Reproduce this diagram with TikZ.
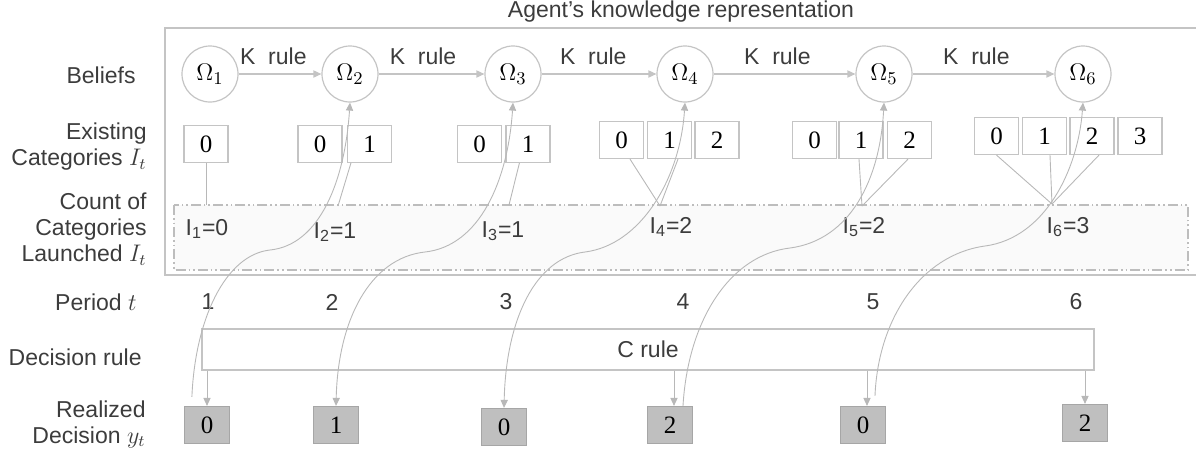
\documentclass[tikz,border=0pt]{standalone}
\usepackage{fontspec}
\setmainfont{Liberation Sans}
\newfontfamily\digfont{Liberation Serif}
\usetikzlibrary{arrows.meta,calc}
\definecolor{txt}{HTML}{3C3C3C}
\definecolor{ln}{HTML}{C4C4C4}
\definecolor{cn}{HTML}{B8B8B8}
\definecolor{dfill}{HTML}{BFBFBF}
\definecolor{dline}{HTML}{A6A6A6}
\definecolor{panel}{HTML}{FAFAFA}
\definecolor{dash}{HTML}{BDBDBD}
\begin{document}
\begin{tikzpicture}[x=0.5pt,y=-0.5pt,
  font=\fontsize{11.5}{13}\selectfont, text=txt,
  belief/.style={circle,draw=ln,line width=0.6pt,minimum size=28pt,inner sep=0pt,text=black,font=\fontsize{12.5}{13}\selectfont},
  catbox/.style={draw=ln,line width=0.6pt,minimum width=22pt,minimum height=18.5pt,inner sep=0pt,text=black,font=\digfont\fontsize{12.5}{13}\selectfont},
  decbox/.style={draw=dline,fill=dfill,line width=0.6pt,minimum width=22.5pt,minimum height=18.5pt,inner sep=0pt,text=black,font=\digfont\fontsize{12.5}{13}\selectfont},
  rowlabel/.style={anchor=east,align=right,inner sep=0pt},
  plain/.style={inner sep=0pt},
  conn/.style={draw=cn,line width=0.45pt},
  tipa/.tip={Triangle[length=4pt,width=3.6pt]},
  arr/.style={conn,-tipa},
  karrow/.style={draw=ln,line width=0.6pt,-tipa},
  frame/.style={draw=ln,line width=0.6pt},
  panelbox/.style={draw=dash,fill=panel,line width=0.6pt,dash pattern=on 5pt off 1.5pt on 0.8pt off 1.5pt on 0.8pt off 1.5pt},
  rulebox/.style={draw=ln,line width=0.6pt,minimum width=446pt,minimum height=20.5pt,inner sep=0pt}
]
\useasboundingbox (0,0) rectangle (1196,456);

% frames
\draw[frame] (165,28) rectangle (1205,275);
\draw[panelbox] (174,205) rectangle (1188,270);

% title
\node[plain] (title) at (681,12) {Agent's knowledge representation};

% row labels
\node[rowlabel] (lb1) at (136,75) {Beliefs};
\node[rowlabel] (lb2) at (147,147) {Existing\\Categories $I_t$};
\node[rowlabel] (lb3) at (147,229) {Count of\\Categories\\Launched $I_t$};
\node[rowlabel] (lb4) at (137,302) {Period $t$};
\node[rowlabel] (lb5) at (142,357) {Decision rule};
\node[rowlabel] (lb6) at (146,424) {Realized\\Decision $y_t$};

% beliefs
\node[belief] (o1) at (210,74) {$\Omega_1$};
\node[belief] (o2) at (350,74) {$\Omega_2$};
\node[belief] (o3) at (513,74) {$\Omega_3$};
\node[belief] (o4) at (685,74) {$\Omega_4$};
\node[belief] (o5) at (884,74) {$\Omega_5$};
\node[belief] (o6) at (1083,74) {$\Omega_6$};

\draw[karrow] (o1) -- node[above=4.5pt,plain,pos=0.42] (kr1) {K~~rule} (o2);
\draw[karrow] (o2) -- node[above=4.5pt,plain,pos=0.42] (kr2) {K~~rule} (o3);
\draw[karrow] (o3) -- node[above=4.5pt,plain,pos=0.45] (kr3) {K~~rule} (o4);
\draw[karrow] (o4) -- node[above=4.5pt,plain,pos=0.45] (kr4) {K~~rule} (o5);
\draw[karrow] (o5) -- node[above=4.5pt,plain,pos=0.45] (kr5) {K~~rule} (o6);

% existing categories
\node[catbox] (c1a) at (206,144) {0};
\node[catbox] (c2a) at (320,144) {0};
\node[catbox] (c2b) at (369.5,144) {1};
\node[catbox] (c3a) at (479.5,144) {0};
\node[catbox] (c3b) at (528,144) {1};
\node[catbox] (c4a) at (621.5,140) {0};
\node[catbox] (c4b) at (669.5,140) {1};
\node[catbox] (c4c) at (717,140) {2};
\node[catbox] (c5a) at (814.5,140) {0};
\node[catbox] (c5b) at (861,140) {1};
\node[catbox] (c5c) at (909.5,140) {2};
\node[catbox] (c6a) at (996.5,136) {0};
\node[catbox] (c6b) at (1044.5,136) {1};
\node[catbox] (c6c) at (1092,136) {2};
\node[catbox] (c6d) at (1140,136) {3};

% count points
\coordinate (k1) at (206,205);
\coordinate (k2) at (338,206);
\coordinate (k3) at (509,205);
\coordinate (k4) at (660,206);
\coordinate (k5) at (862,206);
\coordinate (k6) at (1052,204);

\draw[conn] (c1a.south) -- (k1);
\draw[conn] ($(c2b.south west)+(4,0)$) -- (k2);
\draw[conn] ($(c3b.south west)+(14,0)$) -- (k3);
\draw[conn] ($(c4a.south)+(8.5,0)$) -- (k4);
\draw[conn] ($(c4b.south)+(8.5,0)$) -- (k4);
\draw[conn] ($(c5b.south)+(-2,0)$) -- (k5);
\draw[conn] ($(c5c.south)+(-1.5,0)$) -- (k5);
\draw[conn] (c6a.south) -- (k6);
\draw[conn] ($(c6b.south)+(5.5,0)$) -- (k6);
\draw[conn] ($(c6c.south)+(7,0)$) -- (k6);

% counts
\node[plain] (n1) at (207,229) {I\textsubscript{1}=0};
\node[plain] (n2) at (335,232) {I\textsubscript{2}=1};
\node[plain] (n3) at (503,231) {I\textsubscript{3}=1};
\node[plain] (n4) at (671,227) {I\textsubscript{4}=2};
\node[plain] (n5) at (864,227) {I\textsubscript{5}=2};
\node[plain] (n6) at (1068,227) {I\textsubscript{6}=3};

% periods
\node[plain] (p1) at (208,302) {1};
\node[plain] (p2) at (332,302) {2};
\node[plain] (p3) at (506,302) {3};
\node[plain] (p4) at (683,302) {4};
\node[plain] (p5) at (873,302) {5};
\node[plain] (p6) at (1076,302) {6};

% decision rule
\node[rulebox] (crule) at (648,349.5) {C rule};

% realized decisions
\node[decbox] (y1) at (207,425) {0};
\node[decbox] (y2) at (336,425) {1};
\node[decbox] (y3) at (504,427) {0};
\node[decbox] (y4) at (670,425) {2};
\node[decbox] (y5) at (863,425) {0};
\node[decbox] (y6) at (1085,423) {2};

\draw[arr] (crule.south -| y1.north) -- (y1.north);
\draw[arr] ($(crule.south -| y4.north)+(4,0)$) -- ($(y4.north)+(4,0)$);
\draw[arr] ($(crule.south -| y5.north)+(4,0)$) -- ($(y5.north)+(4,0)$);
\draw[arr] (crule.south -| y6.north) -- (y6.north);

% feedback curves
\draw[arr] ($(y1.north west)+(8,-9)$) .. controls (195,320) and (225,255) .. (270,250)
   .. controls (320,245) and (345,180) .. (o2.south);
\draw[conn,tipa-tipa] (y2.north) .. controls (338,320) and (370,258) .. (425,252)
   .. controls (480,246) and (508,180) .. (o3.south);
\draw[conn,tipa-tipa] (y3.north) .. controls (506,320) and (535,258) .. (585,252)
   .. controls (640,245) and (680,180) .. (o4.south);
\draw[arr] ($(y4.north)+(13,0)$) .. controls (688,320) and (730,255) .. (790,248)
   .. controls (850,240) and (880,180) .. (o5.south);
\draw[arr] ($(y5.north)+(12,-10)$) .. controls (878,320) and (920,255) .. (985,246)
   .. controls (1045,238) and (1078,170) .. (o6.south);
\end{tikzpicture}
\end{document}
